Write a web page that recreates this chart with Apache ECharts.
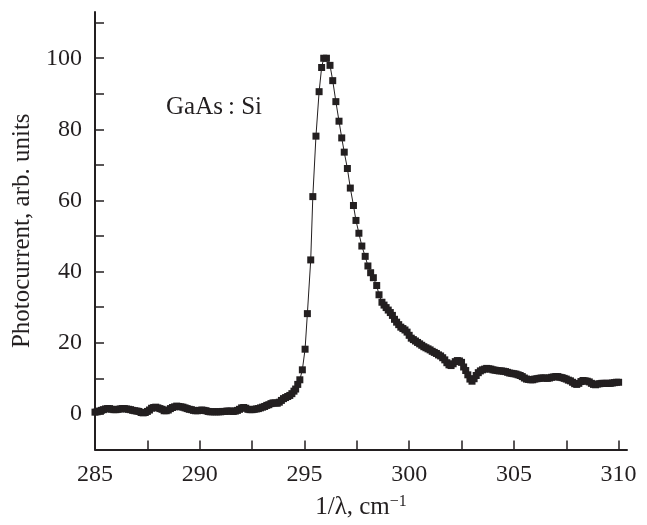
<!DOCTYPE html>
<html>
<head>
<meta charset="utf-8">
<title>GaAs:Si photocurrent</title>
<script src="https://cdn.jsdelivr.net/npm/echarts@6.0.0/dist/echarts.min.js"></script>
<style>
    html, body { margin: 0; padding: 0; background: #fff; }
    #main { width: 647px; height: 525px; }
</style>
</head>
<body>
<div id="main"></div>
<script>
/**
 * 数据 - 1/λ (cm^-1) 与光电流 (arb. units)
 */
var waveNumbers = [
    285.0, 285.1, 285.2, 285.3, 285.4, 285.5, 285.6, 285.7, 285.8, 285.9,
    286.0, 286.1, 286.2, 286.3, 286.4, 286.5, 286.6, 286.7, 286.8, 286.9,
    287.0, 287.1, 287.2, 287.3, 287.4, 287.5, 287.6, 287.7, 287.8, 287.9,
    288.0, 288.1, 288.2, 288.3, 288.4, 288.5, 288.6, 288.7, 288.8, 288.9,
    289.0, 289.1, 289.2, 289.3, 289.4, 289.5, 289.6, 289.7, 289.8, 289.9,
    290.0, 290.1, 290.2, 290.3, 290.4, 290.5, 290.6, 290.7, 290.8, 290.9,
    291.0, 291.1, 291.2, 291.3, 291.4, 291.5, 291.6, 291.7, 291.8, 291.9,
    292.0, 292.1, 292.2, 292.3, 292.4, 292.5, 292.6, 292.7, 292.8, 292.9,
    293.0, 293.1, 293.2, 293.3, 293.4, 293.5, 293.6, 293.7, 293.8, 293.9,
    294.0, 294.1, 294.2, 294.3, 294.4, 294.5,
    294.58, 294.68, 294.78, 294.9, 295.03, 295.14, 295.3, 295.4, 295.55, 295.7,
    295.82, 295.92, 296.05, 296.22, 296.35, 296.5, 296.65, 296.78, 296.9, 297.05,
    297.19, 297.34, 297.46, 297.6, 297.74, 297.9, 298.03, 298.16, 298.29, 298.45,
    298.56, 298.7,
    298.8, 298.9, 299.0, 299.1, 299.2, 299.3, 299.4, 299.5, 299.6, 299.7,
    299.8, 299.9, 300.0, 300.1, 300.2, 300.3, 300.4, 300.5, 300.6, 300.7,
    300.8, 300.9, 301.0, 301.1, 301.2, 301.3, 301.4, 301.5, 301.6, 301.7,
    301.8, 301.9, 302.0, 302.1, 302.2, 302.3, 302.4, 302.5, 302.6, 302.7,
    302.8, 302.9, 303.0, 303.1, 303.2, 303.3, 303.4, 303.5, 303.6, 303.7,
    303.8, 303.9, 304.0, 304.1, 304.2, 304.3, 304.4, 304.5, 304.6, 304.7,
    304.8, 304.9, 305.0, 305.1, 305.2, 305.3, 305.4, 305.5, 305.6, 305.7,
    305.8, 305.9, 306.0, 306.1, 306.2, 306.3, 306.4, 306.5, 306.6, 306.7,
    306.8, 306.9, 307.0, 307.1, 307.2, 307.3, 307.4, 307.5, 307.6, 307.7,
    307.8, 307.9, 308.0, 308.1, 308.2, 308.3, 308.4, 308.5, 308.6, 308.7,
    308.8, 308.9, 309.0, 309.1, 309.2, 309.3, 309.4, 309.5, 309.6, 309.7,
    309.8, 309.9, 310.0
];
var photocurrent = [
    0.5, 0.6, 0.8, 1.0, 1.2, 1.4, 1.5, 1.5, 1.3, 1.2,
    1.2, 1.3, 1.4, 1.5, 1.5, 1.4, 1.3, 1.2, 1.0, 0.9,
    0.8, 0.7, 0.4, 0.3, 0.4, 0.7, 1.1, 1.6, 1.8, 1.9,
    1.7, 1.5, 1.3, 0.9, 0.9, 1.1, 1.5, 1.8, 2.0, 2.2,
    2.1, 2.0, 1.9, 1.7, 1.5, 1.3, 1.2, 1.0, 0.9, 0.9,
    1.0, 1.1, 1.0, 0.9, 0.7, 0.6, 0.6, 0.6, 0.6, 0.6,
    0.6, 0.7, 0.7, 0.8, 0.8, 0.8, 0.7, 0.8, 1.0, 1.3,
    1.7, 1.8, 1.6, 1.3, 1.2, 1.2, 1.3, 1.4, 1.5, 1.7,
    1.9, 2.1, 2.4, 2.6, 2.9, 3.1, 3.1, 3.0, 3.3, 3.8,
    4.3, 4.6, 4.9, 5.2, 5.7, 6.4,
    7.0, 8.3, 9.6, 12.4, 18.2, 28.2, 43.3, 61.1, 78.1, 90.6,
    97.4, 100, 100, 98.0, 93.7, 87.8, 82.3, 77.6, 73.6, 69.0,
    63.5, 58.6, 54.4, 50.8, 47.2, 44.3, 41.6, 39.7, 38.3, 36.1,
    33.5, 31.4,
    30.6, 29.9, 29.2, 28.5, 27.7, 26.6, 25.8, 25.1, 24.4, 24.0,
    23.6, 23.0, 22.1, 21.3, 20.9, 20.5, 20.1, 19.7, 19.3, 18.9,
    18.6, 18.3, 18.0, 17.6, 17.3, 17.0, 16.6, 16.3, 15.8, 15.2,
    14.4, 13.8, 13.6, 14.1, 14.7, 15.0, 14.9, 14.5, 13.2, 12.2,
    11.0, 9.8, 9.2, 9.9, 10.8, 11.6, 12.1, 12.4, 12.6, 12.8,
    12.7, 12.6, 12.4, 12.3, 12.2, 12.1, 12.1, 12.0, 11.9, 11.7,
    11.5, 11.4, 11.3, 11.2, 11.0, 10.8, 10.5, 10.1, 9.8, 9.7,
    9.6, 9.6, 9.8, 9.9, 10.0, 10.1, 10.1, 10.1, 10.0, 10.1,
    10.3, 10.4, 10.5, 10.5, 10.3, 10.2, 10.0, 9.8, 9.5, 9.3,
    8.9, 8.5, 8.3, 8.6, 9.1, 9.4, 9.3, 9.2, 9.0, 8.6,
    8.3, 8.2, 8.4, 8.5, 8.6, 8.6, 8.6, 8.6, 8.6, 8.7,
    8.8, 8.9, 8.9
];

/**
 * 刻度
 */
var xLabelValues = [285, 290, 295, 300, 305, 310];
var xTickValues = [285, 287.5, 290, 292.5, 295, 297.5, 300, 302.5, 305, 307.5, 310];
var yLabelValues = [0, 20, 40, 60, 80, 100];
var yTickValues = [0, 10, 20, 30, 40, 50, 60, 70, 80, 90, 100, 110];

var inkColor = '#231f20';
var serifFont = 'Liberation Serif, Times New Roman, serif';

var chart = echarts.init(document.getElementById('main'));

var points = [];
for (var i = 0; i < waveNumbers.length; i++) {
    points.push([waveNumbers[i], photocurrent[i]]);
}

var option = {
    animation: false,
    backgroundColor: '#fff',
    grid: {
        left: 95,
        right: 20,
        top: 12,
        bottom: 73,
        containLabel: false
    },
    xAxis: {
        type: 'value',
        min: 285,
        max: 310.4,
        name: '1/λ, cm{sup|−1}',
        nameLocation: 'middle',
        nameGap: 44,
        nameTextStyle: {
            color: inkColor,
            fontFamily: serifFont,
            fontSize: 25,
            rich: {
                sup: {
                    fontFamily: serifFont,
                    fontSize: 16,
                    color: inkColor,
                    verticalAlign: 'top',
                    padding: [0, 0, 12, 0]
                }
            }
        },
        axisLine: {
            onZero: false,
            lineStyle: { color: inkColor, width: 2 }
        },
        axisTick: {
            inside: true,
            length: 9,
            customValues: xTickValues,
            lineStyle: { color: inkColor, width: 1.5 }
        },
        axisLabel: {
            customValues: xLabelValues,
            margin: 13,
            color: inkColor,
            fontFamily: serifFont,
            fontSize: 24
        },
        splitLine: { show: false }
    },
    yAxis: {
        type: 'value',
        min: -10,
        max: 113,
        name: 'Photocurrent, arb. units',
        nameLocation: 'middle',
        nameRotate: 90,
        nameGap: 60,
        nameTextStyle: {
            color: inkColor,
            fontFamily: serifFont,
            fontSize: 25
        },
        axisLine: {
            show: true,
            onZero: false,
            lineStyle: { color: inkColor, width: 2 }
        },
        axisTick: {
            inside: true,
            length: 9,
            customValues: yTickValues,
            lineStyle: { color: inkColor, width: 1.5 }
        },
        axisLabel: {
            customValues: yLabelValues,
            margin: 13,
            color: inkColor,
            fontFamily: serifFont,
            fontSize: 24
        },
        splitLine: { show: false }
    },
    graphic: [
        {
            type: 'text',
            left: 166,
            top: 95,
            style: {
                text: 'GaAs\u2009: Si',
                fill: inkColor,
                font: '25px ' + serifFont
            }
        }
    ],
    series: [
        {
            type: 'line',
            data: points,
            symbol: 'rect',
            symbolSize: 7,
            showAllSymbol: true,
            lineStyle: { color: inkColor, width: 1 },
            itemStyle: { color: inkColor },
            emphasis: { disabled: true }
        }
    ]
};
chart.setOption(option);
</script>
</body>
</html>
